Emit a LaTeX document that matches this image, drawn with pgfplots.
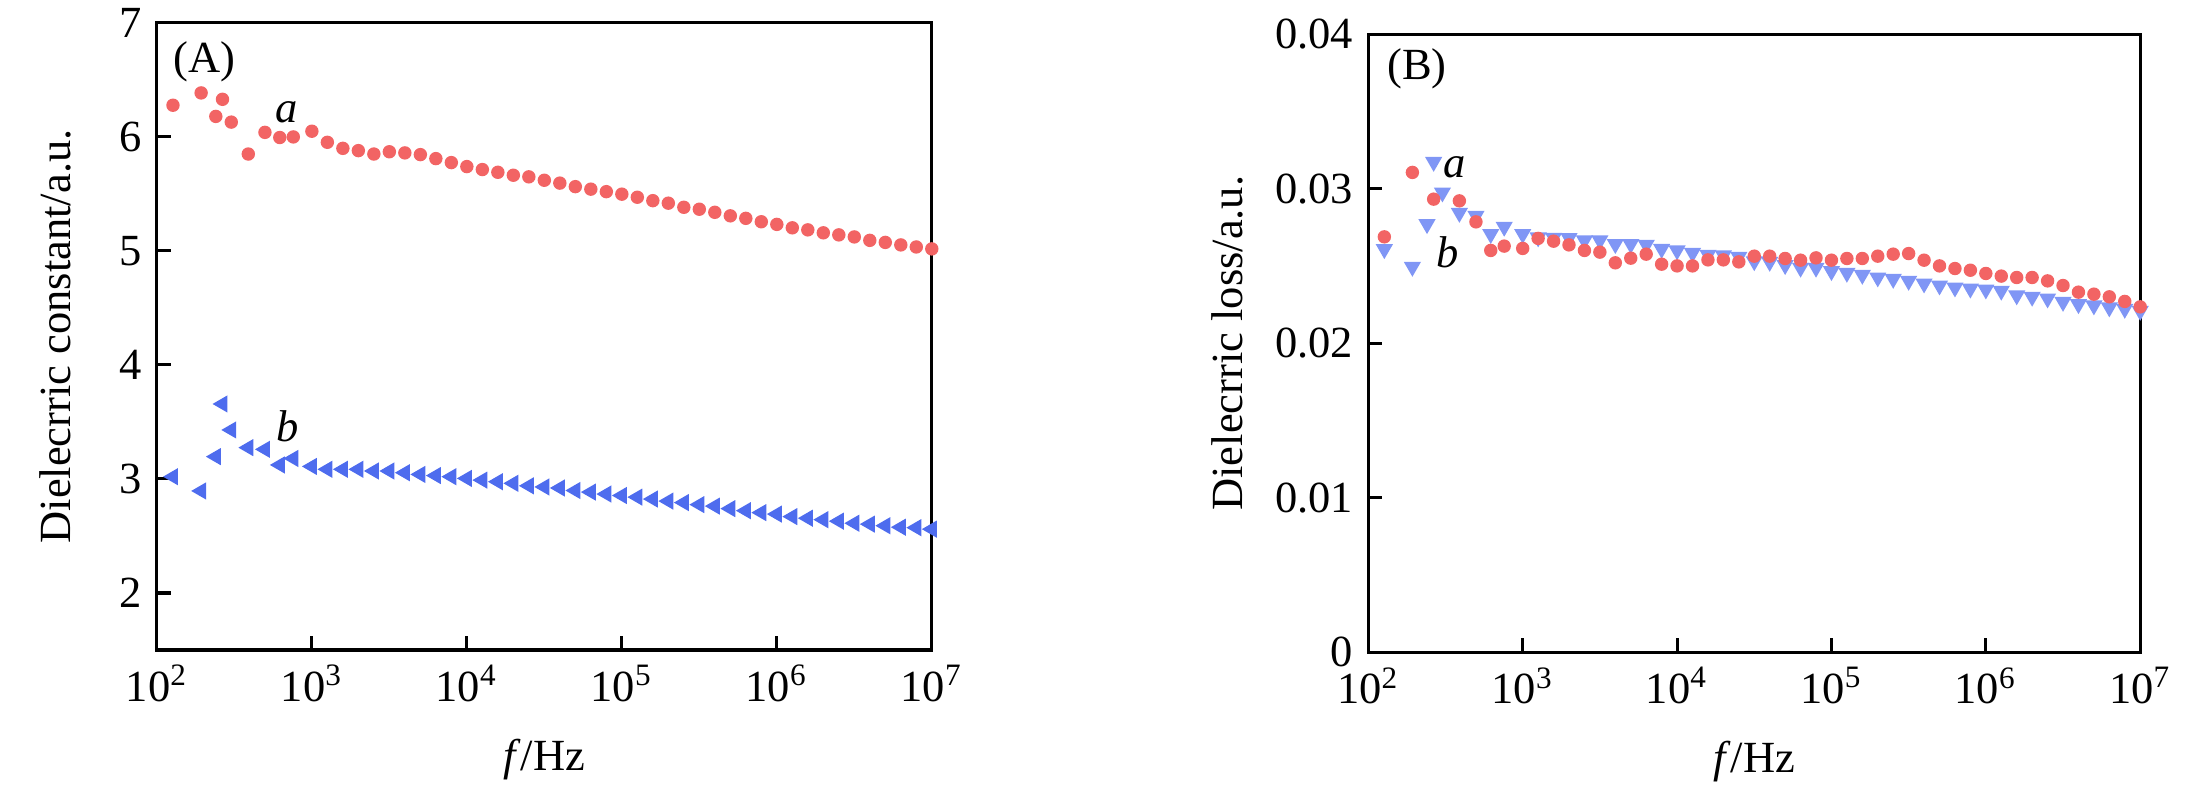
\documentclass[border=0pt]{standalone}
\usepackage{fontspec}
\setmainfont{Liberation Serif}
\usepackage{pgfplots}
\pgfplotsset{compat=1.18}
\definecolor{cred}{RGB}{242,100,100}
\definecolor{cblue}{RGB}{78,108,238}
\definecolor{clblue}{RGB}{128,150,245}
\pgfplotsset{
  myax/.style={
    scale only axis, xmin=1e2, xmax=1e7,
    xtick={1e2,1e3,1e4,1e5,1e6,1e7},
    xticklabels={10\textsuperscript{2},10\textsuperscript{3},10\textsuperscript{4},10\textsuperscript{5},10\textsuperscript{6},10\textsuperscript{7}},
    xminorticks=false, tick align=inside, tick pos=left,
    major tick length=3.2pt, axis line style={line width=0.7pt}, every tick/.style={line width=0.7pt, black},
    /pgf/number format/assume math mode=true, scaled y ticks=false,
    tick label style={font=\fontsize{10.3}{12}\selectfont},
    label style={font=\fontsize{10.3}{12}\selectfont},
    xlabel={\textit{f}/Hz},
    xlabel style={at={(axis description cs:0.5,0)}, anchor=center, yshift=-25.4pt},
    clip=false,
  }
}
\begin{document}
\begin{tikzpicture}
\path[use as bounding box] (0,0) rectangle (510.2pt,182.1pt);
\begin{semilogxaxis}[myax, at={(36.3pt,31.7pt)}, anchor=south west, width=179.3pt, height=145.1pt,
  ymin=1.5, ymax=7, ytick={2,3,4,5,6,7}, yticklabels={2,3,4,5,6,7},
  ylabel={Dielecrric constant/a.u.},
  ylabel style={at={(axis description cs:-0.1305,0.5)}, anchor=center}]
\addplot[only marks, mark=*, mark size=1.35pt, color=cred, mark options={draw=none, fill=cred}] coordinates {
(127,6.278)(193,6.386)(240,6.18)(265,6.33)(302,6.13)(389,5.85)(498,6.04)(621,5.995)(759,6.0)(1000,6.05)
(1259,5.953)(1585,5.90)(1995,5.88)(2512,5.85)(3162,5.87)(3981,5.86)(5012,5.845)(6310,5.81)(7943,5.775)(10000,5.74)
(12589,5.714)(15849,5.69)(19953,5.664)(25119,5.65)(31623,5.62)(39811,5.595)(50119,5.564)(63096,5.542)(79433,5.520)(100000,5.498)
(125893,5.471)(158489,5.441)(199526,5.419)(251189,5.383)(316228,5.366)(398107,5.339)(501187,5.308)(630957,5.286)(794328,5.256)(1000000,5.233)
(1258925,5.203)(1584893,5.185)(1995262,5.159)(2511886,5.141)(3162278,5.123)(3981072,5.093)(5011872,5.075)(6309573,5.053)(7943282,5.035)(10000000,5.018)
};
\addplot[only marks, mark=triangle*, mark size=1.9pt, color=cblue, mark options={draw=none, fill=cblue, rotate=90}] coordinates {
(127,3.02)(193,2.895)(240,3.196)(265,3.658)(302,3.43)(389,3.275)(498,3.26)(621,3.123)(759,3.18)(1000,3.11)
(1259,3.085)(1585,3.085)(1995,3.085)(2512,3.07)(3162,3.07)(3981,3.055)(5012,3.04)(6310,3.03)(7943,3.02)(10000,3.005)
(12589,2.99)(15849,2.976)(19953,2.962)(25119,2.94)(31623,2.93)(39811,2.921)(50119,2.899)(63096,2.885)(79433,2.868)(100000,2.855)
(125893,2.841)(158489,2.824)(199526,2.806)(251189,2.793)(316228,2.775)(398107,2.762)(501187,2.74)(630957,2.722)(794328,2.705)(1000000,2.692)
(1258925,2.67)(1584893,2.656)(1995262,2.643)(2511886,2.63)(3162278,2.612)(3981072,2.604)(5011872,2.59)(6309573,2.577)(7943282,2.573)(10000000,2.56)
};
\node[font=\fontsize{10.3}{12}\selectfont] at (axis cs:204,6.66) {(A)};
\node[font=\fontsize{10.3}{12}\selectfont\itshape] at (axis cs:690,6.22) {a};
\node[font=\fontsize{10.3}{12}\selectfont\itshape] at (axis cs:700,3.46) {b};
\end{semilogxaxis}
\begin{semilogxaxis}[myax, at={(316.6pt,31.2pt)}, anchor=south west, width=178.6pt, height=143pt,
  ymin=0, ymax=0.04, ytick={0,0.01,0.02,0.03,0.04}, yticklabels={0,0.01,0.02,0.03,0.04},
  ylabel={Dielecrric loss/a.u.},
  ylabel style={at={(axis description cs:-0.1826,0.5)}, anchor=center}]
\addplot[only marks, mark=triangle*, mark size=1.9pt, color=clblue, mark options={draw=none, fill=clblue, rotate=180}] coordinates {
(127,0.02608)(193,0.02494)(240,0.0277)(265,0.03173)(302,0.02975)(389,0.02843)(498,0.02824)(621,0.02706)(759,0.02753)(1000,0.02706)
(1259,0.02684)(1585,0.02682)(1995,0.0268)(2512,0.02665)(3162,0.02665)(3981,0.02641)(5012,0.02641)(6310,0.02636)(7943,0.0261)(10000,0.026)
(12589,0.02584)(15849,0.02572)(19953,0.02568)(25119,0.02559)(31623,0.0253)(39811,0.02526)(50119,0.02505)(63096,0.02488)(79433,0.02488)(100000,0.02466)
(125893,0.02455)(158489,0.02442)(199526,0.02425)(251189,0.02416)(316228,0.02403)(398107,0.02386)(501187,0.02373)(630957,0.0236)(794328,0.02353)(1000000,0.02347)
(1258925,0.02339)(1584893,0.02309)(1995262,0.023)(2511886,0.02289)(3162278,0.02267)(3981072,0.02252)(5011872,0.02244)(6309573,0.02231)(7943282,0.02222)(10000000,0.02209)
};
\addplot[only marks, mark=*, mark size=1.35pt, color=cred, mark options={draw=none, fill=cred}] coordinates {
(127,0.02688)(193,0.03105)(265,0.02932)(389,0.02921)(498,0.02785)(621,0.026)(759,0.02628)(1000,0.02613)
(1259,0.02678)(1585,0.0266)(1995,0.02636)(2512,0.026)(3162,0.02589)(3981,0.0252)(5012,0.0255)(6310,0.02576)(7943,0.02511)(10000,0.025)
(12589,0.025)(15849,0.02539)(19953,0.02539)(25119,0.02526)(31623,0.02563)(39811,0.02563)(50119,0.02548)(63096,0.02537)(79433,0.02552)(100000,0.02537)
(125893,0.02548)(158489,0.02548)(199526,0.02563)(251189,0.02576)(316228,0.0258)(398107,0.02537)(501187,0.025)(630957,0.02483)(794328,0.02472)(1000000,0.02451)
(1258925,0.02434)(1584893,0.02425)(1995262,0.02425)(2511886,0.02403)(3162278,0.02373)(3981072,0.0233)(5011872,0.02317)(6309573,0.023)(7943282,0.0227)(10000000,0.02235)
};
\node[font=\fontsize{10.3}{12}\selectfont] at (axis cs:207,0.03778) {(B)};
\node[font=\fontsize{10.3}{12}\selectfont\itshape] at (axis cs:365,0.0314) {a};
\node[font=\fontsize{10.3}{12}\selectfont\itshape] at (axis cs:324,0.0259) {b};
\end{semilogxaxis}
\end{tikzpicture}
\end{document}
